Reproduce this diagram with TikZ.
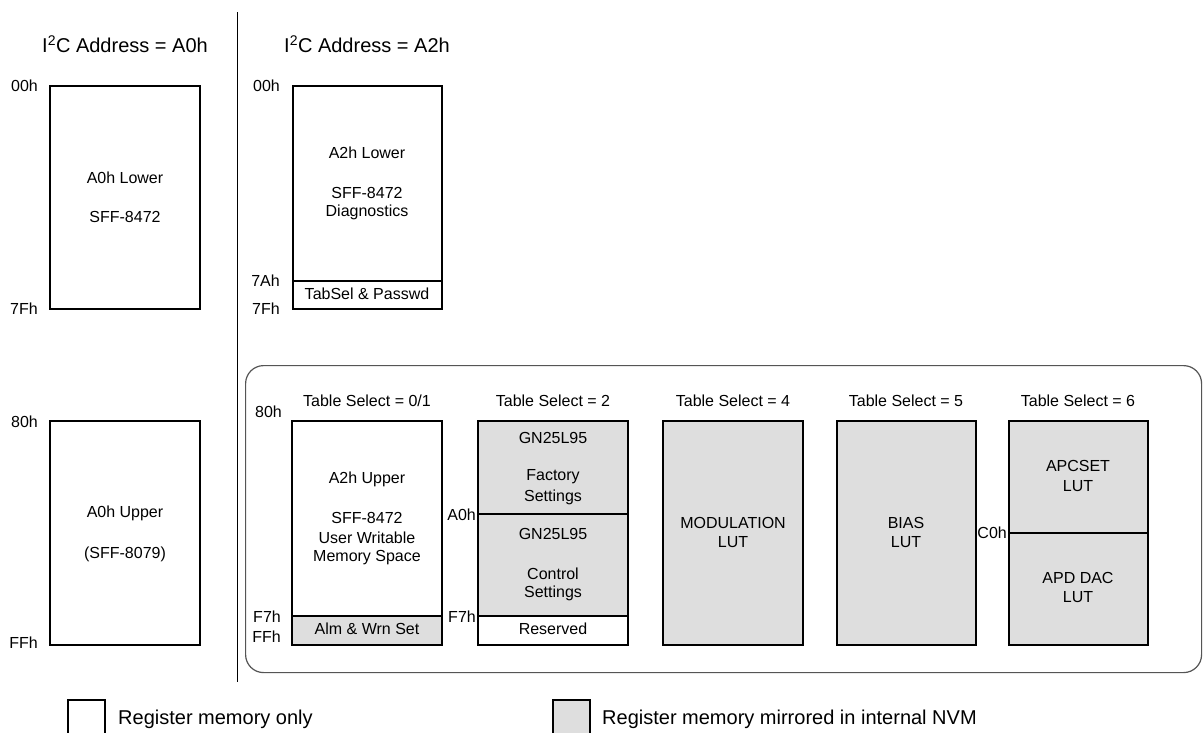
\documentclass[tikz,border=0pt]{standalone}
\usepackage{fontspec}
\setmainfont{Liberation Sans}
\definecolor{nvm}{HTML}{DEDEDE}
\definecolor{frame}{HTML}{555555}
\begin{document}
\begin{tikzpicture}[x=1pt,y=-1pt,
  membox/.style={draw=black, line width=2pt, anchor=north west, inner sep=0pt, outer sep=0pt},
  gray/.style={fill=nvm},
  txt/.style={inner sep=0pt, font=\fontsize{16}{19}\selectfont, align=center},
  big/.style={inner sep=0pt, font=\fontsize{20}{24}\selectfont},
  hexl/.style={txt, anchor=east}]
\useasboundingbox (0,0) rectangle (1203,732);
\fill[white] (0,0) rectangle (1203,732);

% divider and frame
\coordinate (dtop) at (237,12);
\coordinate (dbot) at (237,682);
\draw[line width=1pt] (dtop) -- (dbot);
\node[draw=frame, line width=1.2pt, rounded corners=18pt, anchor=north west, inner sep=0pt,
      minimum width=956pt, minimum height=307pt] (frm) at (245,365) {};

% titles
\node[big] (t1) at (125,44) {I\textsuperscript{2}C Address = A0h};
\node[big] (t2) at (367,44) {I\textsuperscript{2}C Address = A2h};

% A0h lower
\node[membox, minimum width=150pt, minimum height=223pt] (a0l) at (50,86) {};
\node[txt] (a0lt1) at (125,178) {A0h Lower};
\node[txt] (a0lt2) at (125,217) {SFF-8472};
\node[hexl] (h00a) at (38,86) {00h};
\node[hexl] (h7fa) at (38,309) {7Fh};

% A0h upper
\node[membox, minimum width=150pt, minimum height=224pt] (a0u) at (50,421) {};
\node[txt] (a0ut1) at (125,513) {A0h Upper};
\node[txt] (a0ut2) at (125,554) {(SFF-8079)};
\node[hexl] (h80a) at (38,422) {80h};
\node[hexl] (hffa) at (38,643) {FFh};

% A2h lower
\node[membox, minimum width=149pt, minimum height=195pt] (a2l) at (293,86) {};
\node[membox, minimum width=149pt, minimum height=28pt] (tabsel) at (293,281) {};
\node[txt] (a2lt1) at (367,153) {A2h Lower};
\node[txt] (a2lt2) at (367,193) {SFF-8472};
\node[txt] (a2lt3) at (367,212) {Diagnostics};
\node[txt] (tabselt) at (367,294) {TabSel \& Passwd};
\node[hexl] (h00b) at (280,86) {00h};
\node[hexl] (h7ab) at (280,281) {7Ah};
\node[hexl] (h7fb) at (280,309) {7Fh};

% Table select 0/1
\node[txt] (ts01) at (367,401) {Table Select = 0/1};
\node[membox, minimum width=150pt, minimum height=195pt] (a2u) at (292,421) {};
\node[membox, gray, minimum width=150pt, minimum height=29pt] (alm) at (292,616) {};
\node[txt] (a2ut1) at (367,479) {A2h Upper};
\node[txt] (a2ut2) at (367,518) {SFF-8472};
\node[txt] (a2ut3) at (367,538) {User Writable};
\node[txt] (a2ut4) at (367,558) {Memory Space};
\node[txt] (almt) at (367,629) {Alm \& Wrn Set};
\node[hexl] (h80c) at (282,412) {80h};
\node[hexl] (hf7c) at (281,617) {F7h};
\node[hexl] (hffc) at (281,637) {FFh};

% Table select 2
\node[txt] (ts2) at (553,401) {Table Select = 2};
\node[membox, gray, minimum width=150pt, minimum height=93pt] (fac) at (478,421) {};
\node[membox, gray, minimum width=150pt, minimum height=102pt] (ctl) at (478,514) {};
\node[membox, minimum width=150pt, minimum height=29pt] (res) at (478,616) {};
\node[txt] (fact1) at (553,438) {GN25L95};
\node[txt] (fact2) at (553,477) {Factory};
\node[txt] (fact3) at (553,497) {Settings};
\node[txt] (ctlt1) at (553,534) {GN25L95};
\node[txt] (ctlt2) at (553,574) {Control};
\node[txt] (ctlt3) at (553,593) {Settings};
\node[txt] (rest) at (553,629) {Reserved};
\node[hexl] (ha0d) at (476,515) {A0h};
\node[hexl] (hf7d) at (476,617) {F7h};

% Table select 4
\node[txt] (ts4) at (733,401) {Table Select = 4};
\node[membox, gray, minimum width=140pt, minimum height=224pt] (mod) at (663,421) {};
\node[txt] (modt1) at (733,523) {MODULATION};
\node[txt] (modt2) at (733,542) {LUT};

% Table select 5
\node[txt] (ts5) at (906,401) {Table Select = 5};
\node[membox, gray, minimum width=139pt, minimum height=224pt] (bias) at (837,421) {};
\node[txt] (biast1) at (906,523) {BIAS};
\node[txt] (biast2) at (906,542) {LUT};

% Table select 6
\node[txt] (ts6) at (1078,401) {Table Select = 6};
\node[membox, gray, minimum width=139pt, minimum height=112pt] (apc) at (1009,421) {};
\node[membox, gray, minimum width=139pt, minimum height=112pt] (apd) at (1009,533) {};
\node[txt] (apct1) at (1078,466) {APCSET};
\node[txt] (apct2) at (1078,486) {LUT};
\node[txt] (apdt1) at (1078,578) {APD DAC};
\node[txt] (apdt2) at (1078,597) {LUT};
\node[hexl] (hc0e) at (1007,533) {C0h};

% legend
\node[membox, minimum width=37pt, minimum height=45pt] (leg1) at (68,700) {};
\node[big, anchor=west] (leg1t) at (118,719) {Register memory only};
\node[membox, gray, minimum width=37pt, minimum height=45pt] (leg2) at (553,700) {};
\node[big, anchor=west] (leg2t) at (602,719) {Register memory mirrored in internal NVM};
\end{tikzpicture}
\end{document}
